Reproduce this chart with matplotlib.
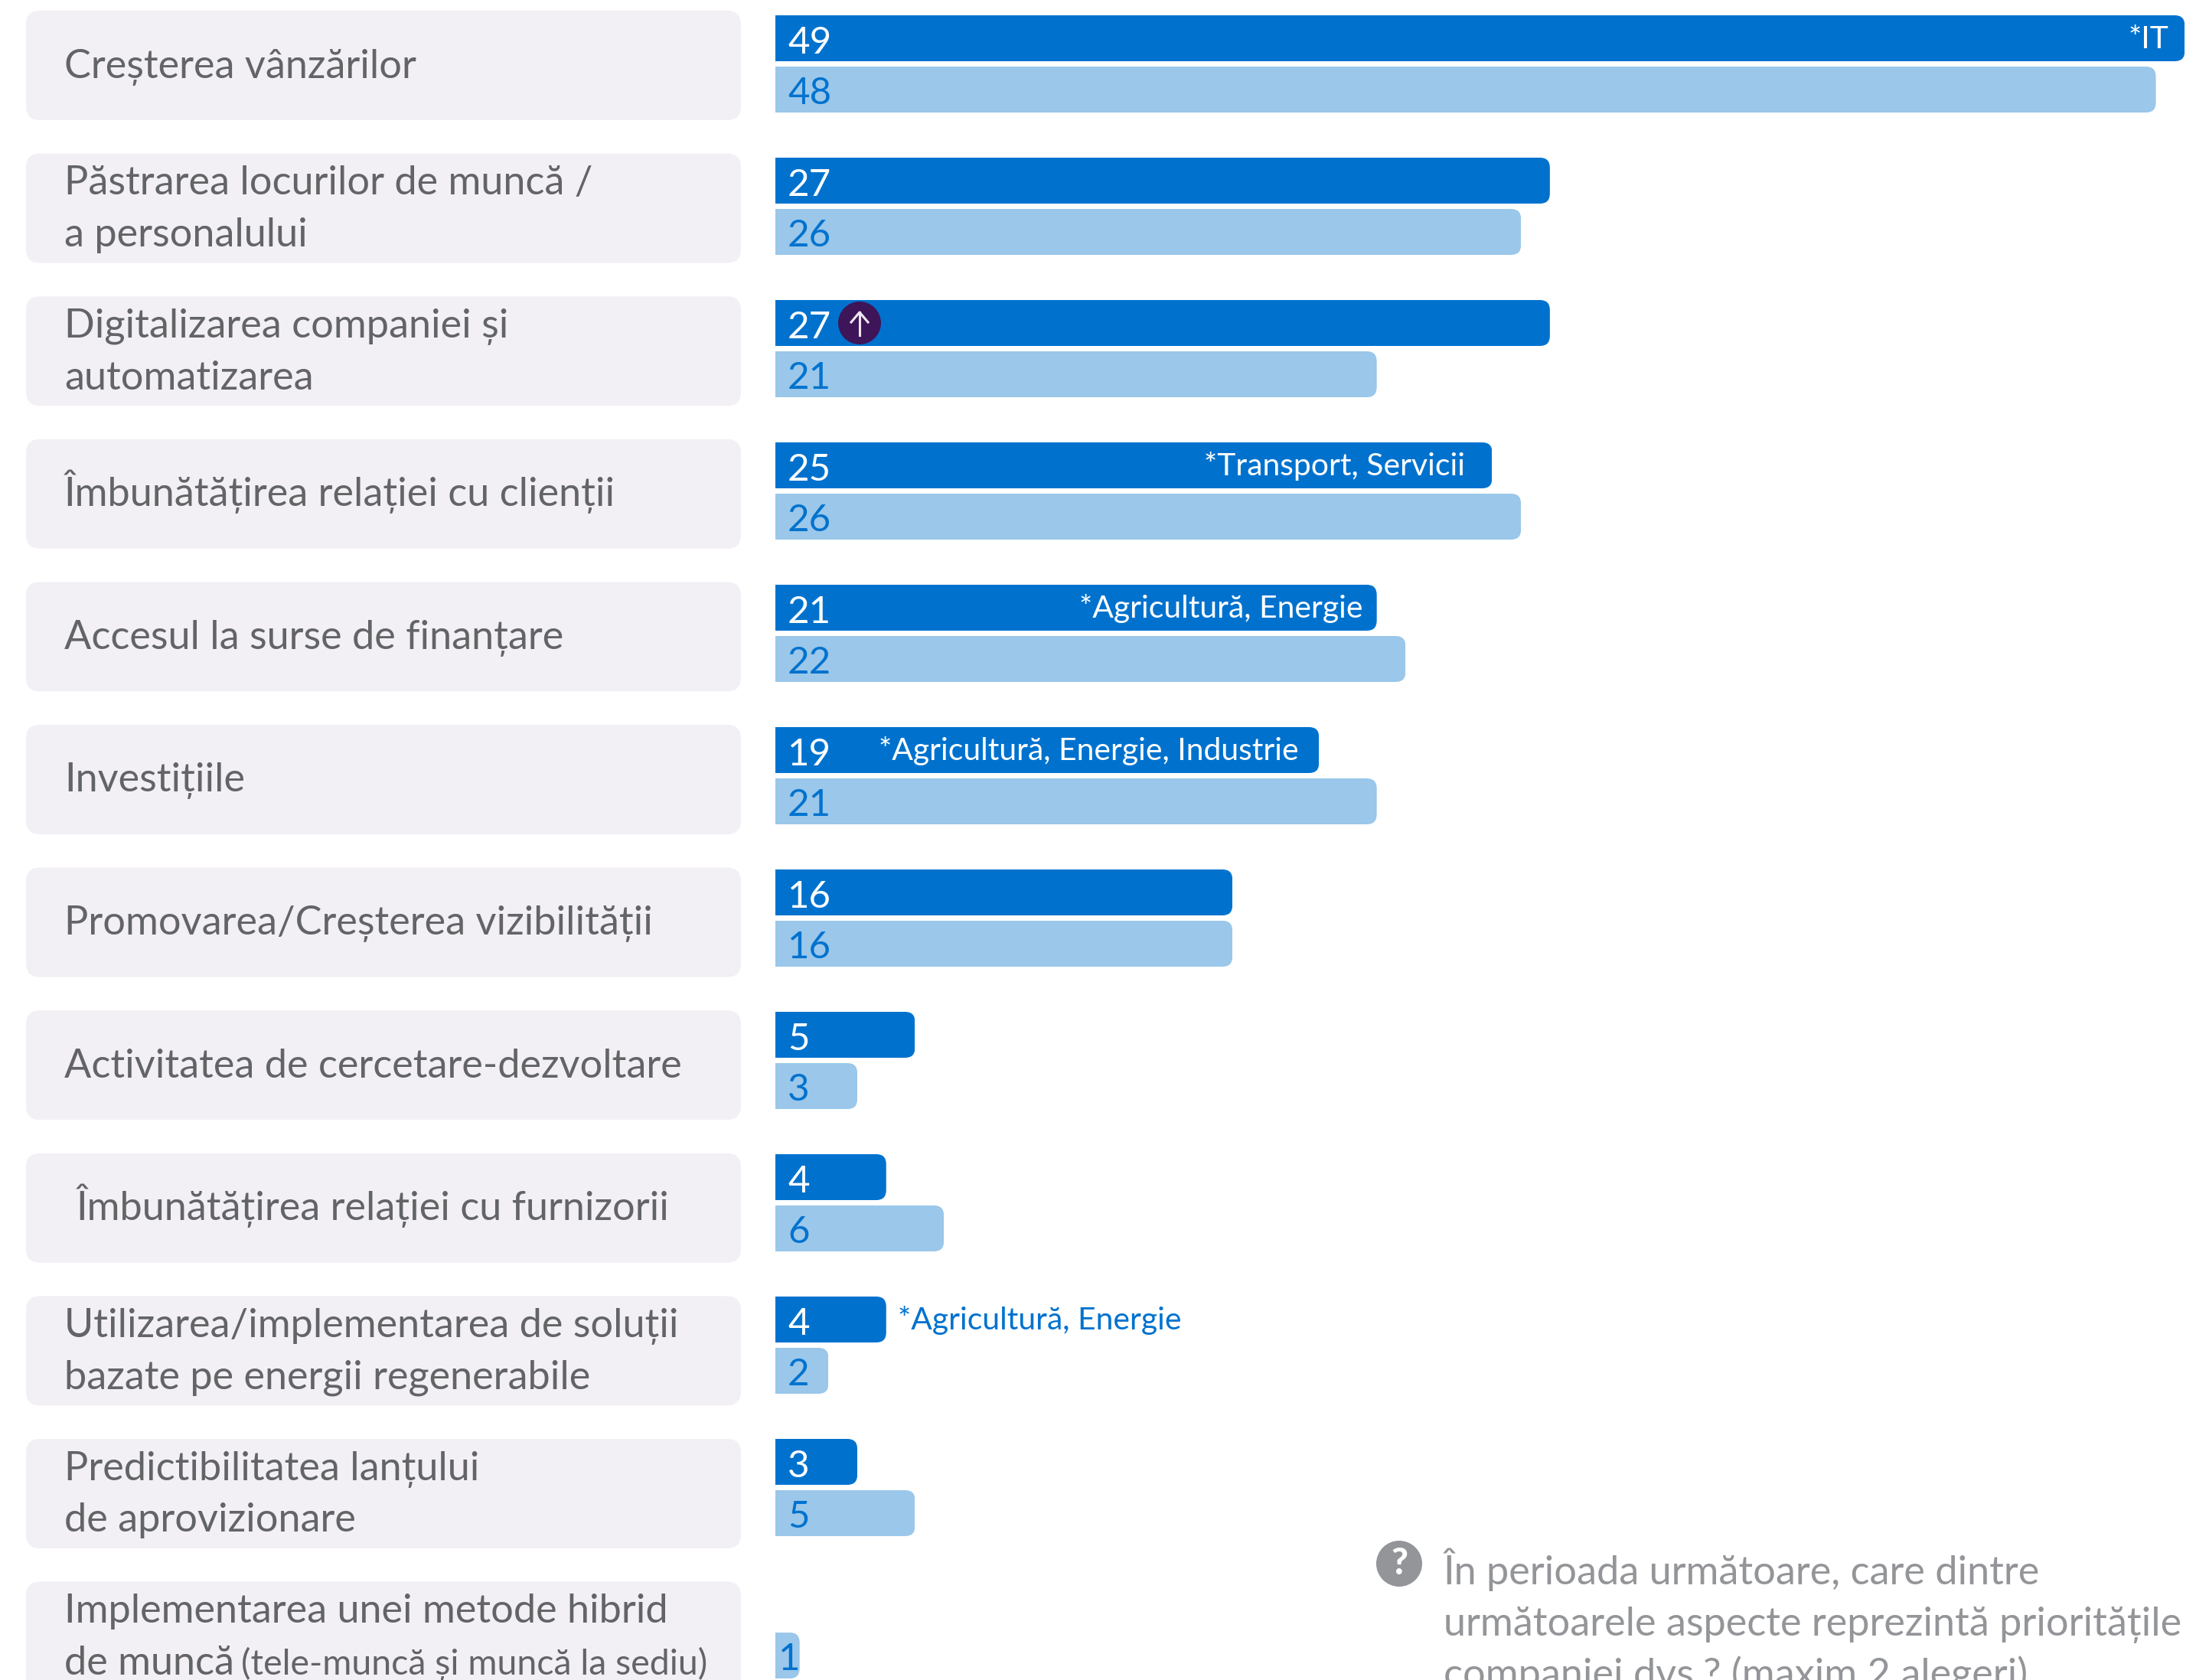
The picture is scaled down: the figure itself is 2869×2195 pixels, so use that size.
import matplotlib
matplotlib.use('Agg')
import matplotlib.pyplot as plt
from matplotlib.patches import FancyBboxPatch, Circle
from matplotlib.transforms import IdentityTransform

plt.rcParams['font.family'] = ['Lato', 'Open Sans', 'DejaVu Sans']

W, H = 2869, 2195

categories = [
    ['Creșterea vânzărilor'],
    ['Păstrarea locurilor de muncă /', 'a personalului'],
    ['Digitalizarea companiei și', 'automatizarea'],
    ['Îmbunătățirea relației cu clienții'],
    ['Accesul la surse de finanțare'],
    ['Investițiile'],
    ['Promovarea/Creșterea vizibilității'],
    ['Activitatea de cercetare-dezvoltare'],
    ['Îmbunătățirea relației cu furnizorii'],
    ['Utilizarea/implementarea de soluții', 'bazate pe energii regenerabile'],
    ['Predictibilitatea lanțului', 'de aprovizionare'],
    ['Implementarea unei metode hibrid', 'de muncă'],
]
last_note = '(tele-muncă și muncă la sediu)'
current = [49, 27, 27, 25, 21, 19, 16, 5, 4, 4, 3, None]
previous = [48, 26, 21, 26, 22, 21, 16, 3, 6, 2, 5, 1]
sectors = {0: '*IT', 3: '*Transport, Servicii', 4: '*Agricultură, Energie',
           5: '*Agricultură, Energie, Industrie', 9: '*Agricultură, Energie'}
question = ['În perioada următoare, care dintre',
            'următoarele aspecte reprezintă prioritățile',
            'companiei dvs.? (maxim 2 alegeri)']

BLUE = '#0072ce'
LIGHT = '#9ac7ea'
PANEL = '#f2f0f5'
GREY = '#636466'
QGREY = '#939598'
PURPLE = '#3e1558'

fig = plt.figure(figsize=(W / 100, H / 100), dpi=100)

# bars live on their own axes, the value axis starts a bit above zero
bar_left = 1013
unit = 37.7
x0 = 0.16
ax = fig.add_axes([bar_left / W, 0, 1 - bar_left / W, 1], zorder=1)
ax.set_xlim(x0, x0 + (W - bar_left) / unit)
ax.set_ylim(H, 0)
ax.axis('off')

# everything else in plain pixels on top
px = fig.add_axes([0, 0, 1, 1], zorder=2)
px.set_xlim(0, W)
px.set_ylim(H, 0)
px.axis('off')


def rounded_bar(value, top, height, color):
    bar = ax.barh(top + height / 2, value, height=height, color=color, linewidth=0)[0]
    (x_a, y_a), (x_b, y_b) = ax.transData.transform([(value, top), (value, top + height)])
    # clip shape only rounds the right end, its left end sits outside the axes
    clip = FancyBboxPatch((bar_left - 100, min(y_a, y_b)), x_a - bar_left + 100, abs(y_b - y_a),
                          boxstyle='round,pad=0,rounding_size=13', transform=IdentityTransform())
    bar.set_clip_path(clip)


row_bars = 186
row_panel = 186.6
for i, lines in enumerate(categories):
    top = 14 + i * row_panel
    px.add_patch(FancyBboxPatch((34, top), 934, 143, boxstyle='round,pad=0,rounding_size=18',
                                facecolor=PANEL, edgecolor='none'))
    mid = top + 71.5
    left = 100 if i == 8 else 84
    if len(lines) == 1:
        px.text(left, mid + 16, lines[0], fontsize=37.6, color=GREY, va='baseline')
    else:
        px.text(left, mid - 18, lines[0], fontsize=37.6, color=GREY, va='baseline')
        px.text(left, mid + 50, lines[1], fontsize=37.6, color=GREY, va='baseline')

    dark_top = 20 + i * row_bars
    light_top = 87 + i * row_bars
    if current[i] is not None:
        rounded_bar(current[i], dark_top, 60, BLUE)
        px.text(1029, dark_top + 50, str(current[i]), fontsize=35.5, color='white', va='baseline')
    rounded_bar(previous[i], light_top, 60, LIGHT)
    px.text(1017 if previous[i] == 1 else 1029, light_top + 49, str(previous[i]),
            fontsize=35.5, color=BLUE, va='baseline')

px.text(315, 14 + 11 * row_panel + 121, last_note, fontsize=33.5, color=GREY, va='baseline')

for i, note in sectors.items():
    base = 20 + i * row_bars + 43
    if i == 9:
        px.text(1173, base, note, fontsize=29.4, color=BLUE, va='baseline')
    else:
        right = {0: 2833, 3: 1914, 4: 1781, 5: 1697}[i]
        px.text(right, base, note, fontsize=29.4, color='white', va='baseline', ha='right')

# significant increase badge
px.add_patch(Circle((1123, 422), 28, facecolor=PURPLE, edgecolor='none'))
px.plot([1123, 1123], [408, 438], color='#ede6f0', lw=2.2)
px.plot([1112, 1123, 1134], [421, 408, 421], color='#ede6f0', lw=2.2)

# question note, runs off the bottom of the picture
px.add_patch(Circle((1828, 2043), 30, facecolor=QGREY, edgecolor='none'))
px.text(1828, 2043, '?', fontsize=34, color='white', fontweight='black', ha='center', va='center')
for j, line in enumerate(question):
    px.text(1886, 2070 + j * 67, line, fontsize=37.6, color=QGREY, va='baseline')

fig.savefig('out.png', dpi=100)
